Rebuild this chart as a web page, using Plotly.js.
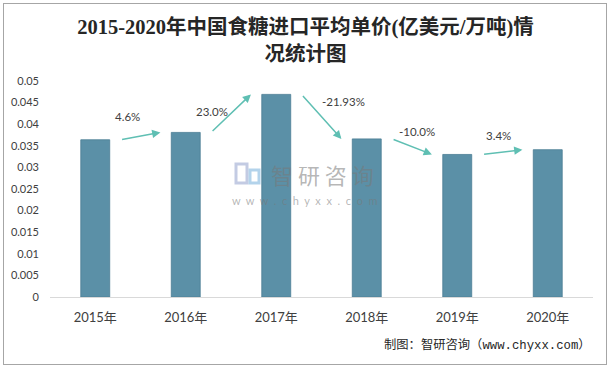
<!DOCTYPE html>
<html>
<head>
<meta charset="utf-8">
<script src="https://cdn.plot.ly/plotly-3.0.1.min.js"></script>
<style>
  html, body { margin: 0; padding: 0; background: #ffffff; }
  #wrap { position: relative; width: 611px; height: 368px; }
  #chart { width: 611px; height: 368px; }
  #frame { position: absolute; left: 3px; top: 3px; width: 602px; height: 360px;
           border: 1px solid #a6a6a6; pointer-events: none; }
</style>
</head>
<body>
<div id="wrap">
  <div id="chart"></div>
  <div id="frame"></div>
</div>
<script>
// ---- data ----
const years = ['2015年', '2016年', '2017年', '2018年', '2019年', '2020年'];
const unitPrice = [0.0364, 0.0381, 0.0469, 0.0366, 0.0330, 0.0341];
const growthLabels = ['4.6%', '23.0%', '-21.93%', '-10.0%', '3.4%'];
const yTicks = [0, 0.005, 0.01, 0.015, 0.02, 0.025, 0.03, 0.035, 0.04, 0.045, 0.05];
const yTickText = ['0', '0.005', '0.01', '0.015', '0.02', '0.025', '0.03', '0.035', '0.04', '0.045', '0.05'];

// ---- label placement (layout only) ----
const labelPos = [
  {dx: 0.36, dy: 0.0417},
  {dx: 1.29, dy: 0.0429},
  {dx: 2.74, dy: 0.0452},
  {dx: 3.55, dy: 0.0383},
  {dx: 4.46, dy: 0.0373}
];

const baseFont = 'Lato, "Noto Sans CJK SC", sans-serif';
const annotations = [];
for (let i = 0; i < growthLabels.length; i++) {
  annotations.push({
    x: i + 0.72, y: unitPrice[i + 1], xref: 'x', yref: 'y',
    ax: i + 0.28, ay: unitPrice[i], axref: 'x', ayref: 'y',
    showarrow: true, arrowhead: 2, arrowsize: 1.1, arrowwidth: 1.5,
    arrowcolor: '#5fbfb3', text: '', standoff: 0, startstandoff: 0
  });
  annotations.push({
    x: labelPos[i].dx, y: labelPos[i].dy, xref: 'x', yref: 'y',
    text: growthLabels[i], showarrow: false,
    font: {family: baseFont, size: 11.5, color: '#404040'}
  });
}
// watermark
annotations.push({
  xref: 'paper', yref: 'paper', x: (322 - 50) / 543, y: (297 - 174) / 216,
  text: '智 研 咨 询', showarrow: false, xanchor: 'center', yanchor: 'middle',
  font: {family: '"Noto Sans CJK SC", sans-serif', size: 22, color: 'rgba(120,120,120,0.55)'}
});
annotations.push({
  xref: 'paper', yref: 'paper', x: (305 - 50) / 543, y: (297 - 200) / 216,
  text: 'w  w  w  .  c  h  y  x  x  .  c  o  m', showarrow: false, xanchor: 'center', yanchor: 'middle',
  font: {family: 'Lato, sans-serif', size: 11, color: 'rgba(120,120,120,0.55)'}
});
// source
annotations.push({
  xref: 'paper', yref: 'paper', x: 1, y: (297 - 345) / 216,
  xanchor: 'right', yanchor: 'middle', showarrow: false,
  text: '制图：智研咨询（www.chyxx.com）',
  font: {family: '"Liberation Mono", "Noto Sans CJK SC", monospace', size: 12.3, color: '#262626'}
});

const trace = {
  type: 'bar',
  x: years,
  y: unitPrice,
  marker: {color: '#5b90a7', line: {color: '#4b7d94', width: 0.8}},
  width: 0.32,
  hoverinfo: 'x+y'
};

const layout = {
  width: 611, height: 368,
  margin: {l: 50, r: 18, t: 81, b: 71},
  paper_bgcolor: '#ffffff', plot_bgcolor: '#ffffff',
  showlegend: false,
  title: {
    text: '2015-2020年中国食糖进口平均单价(亿美元/万吨)情<br>况统计图',
    font: {family: '"Liberation Serif", "Noto Sans CJK SC", serif', size: 20.5, color: '#262626', weight: 'bold'},
    x: 0.5, xanchor: 'center', xref: 'container',
    y: 1 - 34 / 368, yanchor: 'middle', yref: 'container'
  },
  shapes: [
    // watermark logo (decorative)
    {type: 'rect', xref: 'paper', yref: 'paper',
     x0: (236 - 50) / 543, x1: (247 - 50) / 543, y0: (297 - 183) / 216, y1: (297 - 164) / 216,
     line: {color: 'rgba(180,190,220,0.8)', width: 3}, fillcolor: 'rgba(0,0,0,0)'},
    {type: 'rect', xref: 'paper', yref: 'paper',
     x0: (250 - 50) / 543, x1: (259 - 50) / 543, y0: (297 - 183) / 216, y1: (297 - 170) / 216,
     line: {color: 'rgba(160,200,230,0.8)', width: 3}, fillcolor: 'rgba(0,0,0,0)'}
  ],
  xaxis: {
    type: 'category',
    showline: true, linecolor: '#d9d9d9', linewidth: 1,
    showgrid: false, zeroline: false, ticks: '',
    ticklabelstandoff: 8,
    tickfont: {family: baseFont, size: 13, color: '#404040'}
  },
  yaxis: {
    range: [0, 0.05],
    tickvals: yTicks, ticktext: yTickText,
    showline: false, showgrid: false, zeroline: false, ticks: '',
    ticklabelstandoff: 10,
    tickfont: {family: baseFont, size: 11, color: '#404040'}
  },
  annotations: annotations
};

Plotly.newPlot('chart', [trace], layout, {displayModeBar: false, staticPlot: true});
</script>
</body>
</html>
